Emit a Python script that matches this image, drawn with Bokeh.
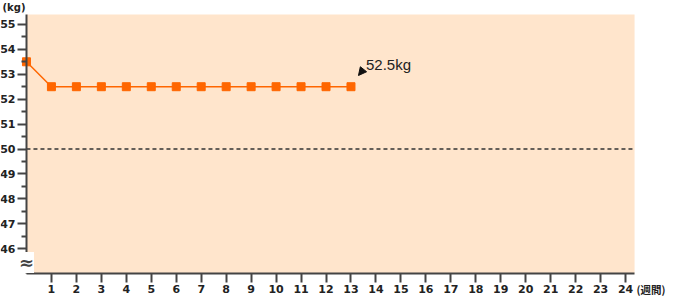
from bokeh.plotting import figure
from bokeh.models import Range1d, FixedTicker, Label, Arrow, NormalHead
from bokeh.embed import file_html
from bokeh.resources import INLINE

# ---- data ----
weeks = [0, 1, 2, 3, 4, 5, 6, 7, 8, 9, 10, 11, 12, 13]
weights = [53.5, 52.5, 52.5, 52.5, 52.5, 52.5, 52.5, 52.5, 52.5, 52.5, 52.5, 52.5, 52.5, 52.5]
x_ticks = list(range(1, 25))
y_ticks = list(range(46, 56))
y_minor = [46.5, 47.5, 48.5, 49.5, 50.5, 51.5, 52.5, 53.5, 54.5]
target_weight = 50
annotation_text = "52.5kg"
y_unit = "(kg)"
x_unit = "(週間)"

# ---- plotting-area extent (data units) ----
x_start, x_end = 0.0, 24.36
y_start, y_end = 45.0, 55.4
# whole canvas extent (so that every text lies inside the frame)
cx0, cx1 = -1.04, 26.0
cy0, cy1 = 44.04, 55.96

AXIS = "#444444"
TXT = "#222222"
ORANGE = "#FF6600"
PEACH = "#FFE5CC"

p = figure(width=675, height=297,
           x_range=Range1d(cx0, cx1), y_range=Range1d(cy0, cy1),
           output_backend="svg", toolbar_location=None,
           min_border=0)
p.background_fill_color = "white"
p.border_fill_color = "white"
p.outline_line_color = None
p.grid.visible = False

# peach plotting area
p.quad(left=[x_start], right=[x_end], bottom=[y_start], top=[y_end],
       fill_color=PEACH, line_color=None)

# target dashed line
p.segment(x0=[x_start], y0=[target_weight], x1=[x_end], y1=[target_weight],
          line_color="#333333", line_width=1.5, line_dash="4 3")

# series
p.line(weeks, weights, line_color=ORANGE, line_width=1.5)
p.scatter(weeks, weights, marker="square", size=8,
          fill_color=ORANGE, line_color=ORANGE)

# x axis
xa = p.xaxis[0]
xa.ticker = FixedTicker(ticks=x_ticks, minor_ticks=[])
xa.bounds = (x_start, x_end)
xa.fixed_location = y_start
# y axis
ya = p.yaxis[0]
ya.ticker = FixedTicker(ticks=y_ticks, minor_ticks=y_minor)
ya.bounds = (y_start, y_end)
ya.fixed_location = x_start

for ax in (xa, ya):
    ax.axis_line_color = AXIS
    ax.axis_line_width = 2
    ax.major_tick_line_color = AXIS
    ax.major_tick_line_width = 2
    ax.major_tick_in = 0
    ax.major_tick_out = 9
    ax.minor_tick_line_color = AXIS
    ax.minor_tick_line_width = 2
    ax.minor_tick_in = 0
    ax.minor_tick_out = 5
    ax.major_label_text_font = "DejaVu Sans"
    ax.major_label_text_font_style = "bold"
    ax.major_label_text_font_size = "11px"
    ax.major_label_text_color = TXT
    ax.major_label_standoff = 2

# axis break mark
p.add_layout(Label(x=x_start, y=y_start + 0.44, text="≈",
                   text_align="center", text_baseline="middle",
                   text_font="DejaVu Sans", text_font_style="bold",
                   text_font_size="18px", text_color=AXIS,
                   background_fill_color="white"))

# unit labels
p.add_layout(Label(x=cx0, y=y_end, x_offset=2, y_offset=1,
                   text=y_unit, text_align="left", text_baseline="bottom",
                   text_font="DejaVu Sans", text_font_style="bold",
                   text_font_size="10px", text_color=TXT))
p.add_layout(Label(x=x_end, y=y_start, x_offset=2, y_offset=-16,
                   text=x_unit, text_align="left", text_baseline="middle",
                   text_font="Noto Sans CJK JP", text_font_style="bold",
                   text_font_size="10.5px", text_color=TXT))

# annotation for last value
last_x, last_y = weeks[-1], weights[-1]
p.add_layout(Arrow(x_start=last_x + 0.5, y_start=last_y + 0.7,
                   x_end=last_x + 0.3, y_end=last_y + 0.45,
                   line_alpha=0,
                   end=NormalHead(size=8, fill_color="#111111", line_color="#111111")))
p.add_layout(Label(x=last_x, y=last_y, x_offset=15, y_offset=22,
                   text=annotation_text, text_align="left", text_baseline="middle",
                   text_font="Liberation Sans", text_font_size="15px",
                   text_color=TXT))

open("out.html", "w").write(file_html(p, INLINE))
